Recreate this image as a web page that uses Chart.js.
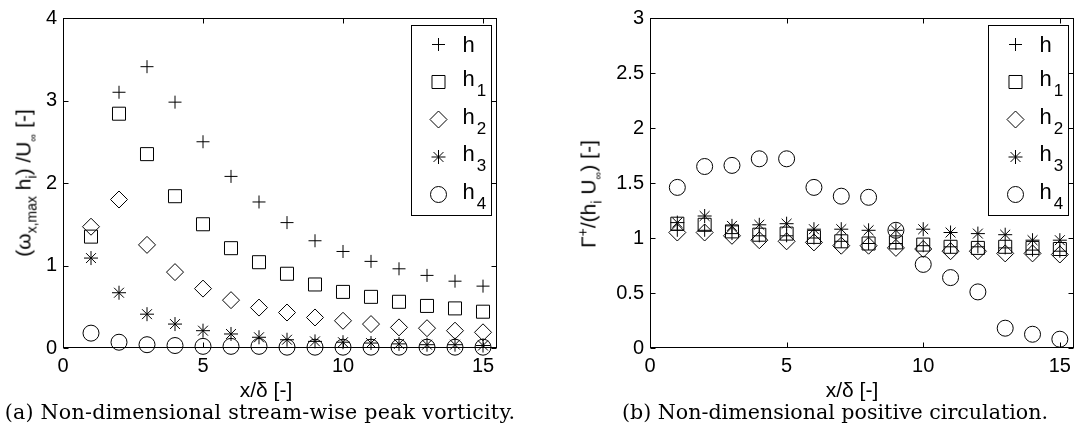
<!DOCTYPE html>
<html><head><meta charset="utf-8">
<script src="https://cdn.jsdelivr.net/npm/chart.js@4.4.1/dist/chart.umd.min.js"></script>
<style>
html,body{margin:0;padding:0;background:#fff;}
#wrap{position:relative;width:1077px;height:445px;overflow:hidden;font-family:Arial,"Liberation Sans",Helvetica,sans-serif;color:#000;background:#fff;}
.cv{position:absolute;top:0;}
.lbl{position:absolute;white-space:nowrap;line-height:1;font-size:21px;}
.rot{transform:translate(-50%,-50%) rotate(-90deg);}
.ctr{transform:translate(-50%,-50%);}
.sb{position:relative;font-size:14px;top:6px;}
.sp{position:relative;font-size:14px;top:-8px;}
.inf{font-size:11px;}
.cap{font-family:"DejaVu Serif",serif;font-size:20.6px;}
</style></head>
<body><div id="wrap">
<div class="cv" style="left:0;"><canvas id="c1" width="540" height="400"></canvas></div>
<div class="cv" style="left:540px;"><canvas id="c2" width="537" height="400"></canvas></div>
<div class="lbl rot" style="left:23px;top:183px;">(ω<span class="sb">x,max</span> h<span class="sb">i</span>) /U<span class="sb inf">∞</span> [-]</div>
<div class="lbl rot" style="left:588px;top:194px;">Γ<span class="sp">+</span>/(h<span class="sb">i</span> U<span class="sb inf">∞</span>) [-]</div>
<div class="lbl ctr" style="left:266px;top:389px;">x/δ [-]</div>
<div class="lbl ctr" style="left:852px;top:389px;">x/δ [-]</div>
<div class="lbl ctr cap" style="left:260px;top:412px;letter-spacing:0.25px;">(a) Non-dimensional stream-wise peak vorticity.</div>
<div class="lbl ctr cap" style="left:835px;top:412px;">(b) Non-dimensional positive circulation.</div>
</div>
<script>
// ---- data ----
const xPos = [1,2,3,4,5,6,7,8,9,10,11,12,13,14,15];
const seriesNames = ['h','h_1','h_2','h_3','h_4'];
const markerStyles = ['cross','rect','rectRot','star','circle'];
const markerRadius = [6.5,9.2,8.5,7,8];

// (a) non-dimensional peak vorticity
const vortH  = [null,3.10,3.41,2.98,2.50,2.08,1.77,1.52,1.30,1.17,1.05,0.96,0.88,0.81,0.75];
const vortH1 = [1.35,2.84,2.35,1.84,1.50,1.21,1.04,0.90,0.77,0.68,0.62,0.56,0.51,0.48,0.44];
const vortH2 = [1.47,1.80,1.25,0.92,0.72,0.58,0.49,0.43,0.37,0.33,0.29,0.25,0.24,0.21,0.19];
const vortH3 = [1.09,0.67,0.41,0.29,0.21,0.17,0.13,0.10,0.08,0.07,0.06,0.05,0.04,0.04,0.03];
const vortH4 = [0.18,0.07,0.04,0.03,0.02,0.02,0.02,0.01,0.01,0.01,0.01,0.01,0.01,0.01,0.01];

// (b) non-dimensional positive circulation
const circH  = [1.07,1.07,1.04,1.02,1.02,1.00,0.97,0.95,0.95,0.93,0.92,0.92,0.91,0.89,0.88];
const circH1 = [1.13,1.12,1.06,1.03,1.04,1.01,0.97,0.95,0.96,0.94,0.92,0.91,0.92,0.91,0.90];
const circH2 = [1.05,1.05,1.02,0.98,0.97,0.96,0.93,0.93,0.91,0.90,0.88,0.88,0.86,0.86,0.85];
const circH3 = [1.14,1.20,1.11,1.12,1.13,1.08,1.08,1.07,1.07,1.08,1.05,1.04,1.03,0.98,0.98];
const circH4 = [1.46,1.65,1.66,1.72,1.72,1.46,1.38,1.37,1.07,0.76,0.64,0.51,0.18,0.125,0.08];

const xMax = 15.5;
const xStep = 5;
const yMaxA = 4, yStepA = 1;
const yMaxB = 3, yStepB = 0.5;

const FAM = 'Arial, "Liberation Sans", Helvetica, sans-serif';
Chart.defaults.font.family = FAM;
Chart.defaults.font.size = 20;
Chart.defaults.color = '#000';

const framePlugin = {
  id: 'frameLegend',
  afterDraw(chart) {
    const {ctx, chartArea: a, scales: {x, y}} = chart;
    ctx.save();
    ctx.strokeStyle = '#000';
    ctx.lineWidth = 1;
    const L = Math.round(a.left) + 0.5, R = Math.round(a.right) - 0.5;
    const T = Math.round(a.top) + 0.5, B = Math.round(a.bottom) - 0.5;
    const tl = 5;
    ctx.beginPath();
    x.ticks.forEach(t => {
      const p = Math.round(x.getPixelForValue(t.value)) + 0.5;
      ctx.moveTo(p, B); ctx.lineTo(p, B - tl);
      ctx.moveTo(p, T); ctx.lineTo(p, T + tl);
    });
    y.ticks.forEach(t => {
      const p = Math.round(y.getPixelForValue(t.value)) + 0.5;
      ctx.moveTo(L, p); ctx.lineTo(L + tl, p);
      ctx.moveTo(R, p); ctx.lineTo(R - tl, p);
    });
    ctx.stroke();
    ctx.strokeRect(L, T, R - L, B - T);

    // legend
    const lw = 80, lh = 190;
    const lx = Math.round(a.right) - 6 - lw + 0.5, ly = Math.round(a.top) + 7 + 0.5;
    ctx.fillStyle = '#fff';
    ctx.fillRect(lx, ly, lw, lh);
    ctx.strokeRect(lx, ly, lw, lh);
    chart.data.datasets.forEach((ds, i) => {
      const cy = ly + 19 + i * 37.5;
      ctx.strokeStyle = '#000';
      ctx.fillStyle = 'rgba(0,0,0,0)';
      ctx.lineWidth = 1;
      Chart.helpers.drawPoint(ctx, {pointStyle: ds.pointStyle, radius: ds.pointRadius, rotation: 0, borderWidth: 1}, lx + 27, cy);
      const parts = ds.label.split('_');
      ctx.fillStyle = '#000';
      ctx.textBaseline = 'alphabetic';
      ctx.textAlign = 'left';
      ctx.font = '22px ' + FAM;
      const base = parts.length > 1 ? cy + 4 : cy + 7;
      ctx.fillText(parts[0], lx + 51, base);
      if (parts.length > 1) {
        const w = ctx.measureText(parts[0]).width;
        ctx.font = '17px ' + FAM;
        ctx.fillText(parts[1], lx + 51 + w + 2, base + 10);
      }
    });
    ctx.restore();
  }
};

function makeDatasets(arrs) {
  return arrs.map((vals, i) => ({
    label: seriesNames[i],
    data: xPos.map((xv, j) => ({x: xv, y: vals[j]})).filter(p => p.y !== null),
    showLine: false,
    pointStyle: markerStyles[i],
    pointRadius: markerRadius[i],
    pointHoverRadius: markerRadius[i],
    pointBorderWidth: 1,
    borderColor: '#000',
    backgroundColor: 'rgba(0,0,0,0)',
    clip: false
  }));
}

function makeChart(id, arrs, yMax, yStep, yWidth, padRight) {
  return new Chart(document.getElementById(id), {
    type: 'scatter',
    data: {datasets: makeDatasets(arrs)},
    options: {
      responsive: false,
      animation: false,
      events: [],
      layout: {autoPadding: false, padding: {left: 0, top: 12, right: padRight, bottom: 0}},
      plugins: {legend: {display: false}, tooltip: {enabled: false}},
      scales: {
        x: {
          type: 'linear', min: 0, max: xMax,
          ticks: {stepSize: xStep, includeBounds: false, padding: 6, maxRotation: 0, font: {size: 20},
                  callback: v => String(v)},
          grid: {display: false, drawTicks: false},
          border: {display: false},
          afterFit(s) { s.height = 52; }
        },
        y: {
          type: 'linear', min: 0, max: yMax,
          ticks: {stepSize: yStep, includeBounds: false, padding: 6, font: {size: 20},
                  callback: v => String(v)},
          grid: {display: false, drawTicks: false},
          border: {display: false},
          afterFit(s) { s.width = yWidth; }
        }
      }
    },
    plugins: [framePlugin]
  });
}

makeChart('c1', [vortH, vortH1, vortH2, vortH3, vortH4], yMaxA, yStepA, 63, 43);
makeChart('c2', [circH, circH1, circH2, circH3, circH4], yMaxB, yStepB, 110, 1);
</script>
</body></html>
